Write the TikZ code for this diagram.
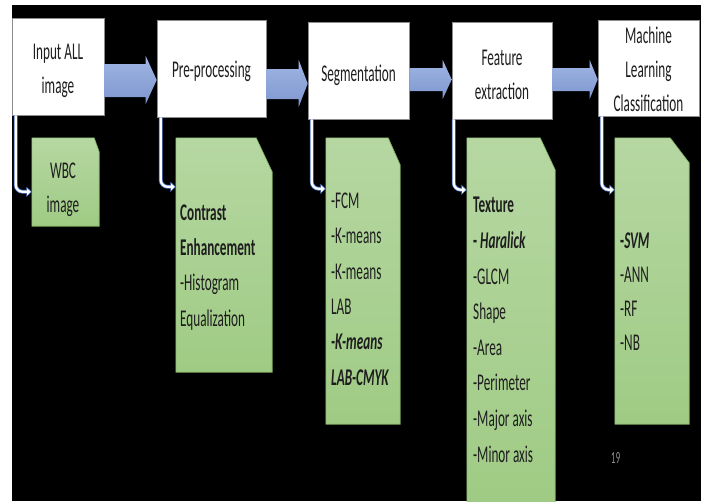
\documentclass[tikz,border=0pt]{standalone}
\usepackage{fontspec}
\setmainfont{Carlito}[FakeStretch=0.55]
\usetikzlibrary{arrows.meta,calc}
\definecolor{arrowtop}{HTML}{A0B5E3}
\definecolor{arrowbot}{HTML}{7E97CF}
\definecolor{greentop}{HTML}{B6D7A2}
\definecolor{greenbot}{HTML}{9FCB84}
\definecolor{greenline}{HTML}{7DAA5E}
\definecolor{connblue}{HTML}{5A80D2}
\definecolor{boxline}{HTML}{8C8C8C}
\definecolor{txt}{HTML}{1E1E1E}
\definecolor{pagenum}{HTML}{8A8A8A}
\newcommand\blockarrow[7]{%
  \path[barrow] let \p1=(#1.east), \p2=(#2.west) in
    (\x1,-#3pt) -- (\x2-#7pt,-#3pt) -- (\x2-#7pt,-#5pt) -- (\x2,{-(#5+#6)/2*1pt})
    -- (\x2-#7pt,-#6pt) -- (\x2-#7pt,-#4pt) -- (\x1,-#4pt) -- cycle;}
\newcommand\greenshape[3]{%
  \path[gfill] (#1.south west) -- (#1.north west) -- ([xshift=-#2pt]#1.north east)
    -- ([yshift=-#3pt]#1.north east) -- (#1.south east) -- cycle;}
\tikzset{
  wbox/.style={draw=boxline, line width=0.6pt, fill=white, rectangle, inner sep=0pt},
  gbox/.style={draw=none, rectangle, inner sep=0pt},
  gfill/.style={draw=greenline, line width=0.6pt, top color=greentop, bottom color=greenbot},
  barrow/.style={top color=arrowtop, bottom color=arrowbot, draw=none},
  wtext/.style={inner sep=0pt, text=txt, align=center, font=\fontsize{24}{34}\selectfont},
  gtext/.style={inner sep=0pt, text=txt, align=left, font=\fontsize{24}{35.3}\selectfont},
  connout/.style={draw=connblue, line width=3.8pt, rounded corners=7pt, -{Triangle[length=5.5pt,width=10pt]}},
  connin/.style={draw=white, line width=2.2pt, rounded corners=7pt, shorten >=1.1pt, -{Triangle[length=3.6pt,width=6.4pt]}},
}
\begin{document}
\begin{tikzpicture}[x=1pt,y=-1pt]
\useasboundingbox (0,0) rectangle (701,501);
\fill[white] (0,0) rectangle (701,501);
\fill[black] (12,5) rectangle (701,501);

% process boxes
\node[wbox, minimum width=92pt, minimum height=97pt] (b1) at (58,66.5) {};
\node[wbox, minimum width=109pt, minimum height=97pt] (b2) at (211.5,68.5) {};
\node[wbox, minimum width=101pt, minimum height=97pt] (b3) at (358.5,70.5) {};
\node[wbox, minimum width=100pt, minimum height=97pt] (b4) at (502,70.5) {};
\node[wbox, minimum width=101pt, minimum height=96pt] (b5) at (648.5,68) {};

% (anchor base = baseline of the last line)
\node[wtext, anchor=base] (tb1) at (58,93) {Input ALL\\image};
\node[wtext, anchor=base] (tb2) at (211.5,77) {Pre-processing};
\node[wtext, anchor=base] (tb3) at (358.5,81.5) {Segmentation};
\node[wtext, anchor=base] (tb4) at (502,99) {Feature\\extraction};
\node[wtext, anchor=base] (tb5) at (648.5,111) {Machine\\Learning\\Classification};

% block arrows
\blockarrow{b1}{b2}{64}{97}{56}{104}{11}
\blockarrow{b2}{b3}{69}{99}{60}{107}{9}
\blockarrow{b3}{b4}{68}{91}{60}{99}{9}
\blockarrow{b4}{b5}{68}{91}{60}{99}{8}

% green boxes
\node[gbox, minimum width=67pt, minimum height=88pt] (g1) at (65.5,182) {};
\node[gbox, minimum width=96pt, minimum height=234pt] (g2) at (224,255) {};
\node[gbox, minimum width=74pt, minimum height=286pt] (g3) at (363,281) {};
\node[gbox, minimum width=88pt, minimum height=366pt] (g4) at (511,321) {};
\node[gbox, minimum width=74pt, minimum height=286pt] (g5) at (652,281) {};
\greenshape{g1}{5}{14}
\greenshape{g2}{16}{34}
\greenshape{g3}{12}{27}
\greenshape{g4}{15}{32}
\greenshape{g5}{19}{25}

\node[wtext, anchor=base] (tg1) at (63,212) {WBC\\image};
\node[gtext, anchor=base west] (tg2) at (180,326) {\textbf{Contrast}\\\textbf{Enhancement}\\-Histogram\\Equalization};
\node[gtext, anchor=base west] (tg3) at (331,385) {-FCM\\-K-means\\-K-means\\LAB\\\textbf{\textit{-K-means}}\\\textbf{\textit{LAB-CMYK}}};
\node[gtext, anchor=base west, font=\fontsize{24}{35.6}\selectfont] (tg4) at (473,462) {\textbf{Texture}\\\textbf{- \textit{Haralick}}\\-GLCM\\Shape\\-Area\\-Perimeter\\-Major axis\\-Minor axis};
\node[gtext, anchor=base west, font=\fontsize{24}{34}\selectfont] (tg5) at (620,350) {\textbf{-\textit{SVM}}\\-ANN\\-RF\\-NB};

% connectors
\foreach \b/\g/\dx/\dy in {b1/g1/4/54, b2/g2/4/49, b3/g3/4/51, b4/g4/2/52, b5/g5/4/52}{
  \draw[connout] ([xshift=\dx pt]\b.south west) |- ([yshift=-\dy pt]\g.north west);
  \draw[connin] ([xshift=\dx pt]\b.south west) |- ([yshift=-\dy pt]\g.north west);
}

\node[inner sep=0pt, text=pagenum, font=\fontsize{17}{17}\selectfont, anchor=base] (pg) at (615.5,463) {19};
\end{tikzpicture}
\end{document}
